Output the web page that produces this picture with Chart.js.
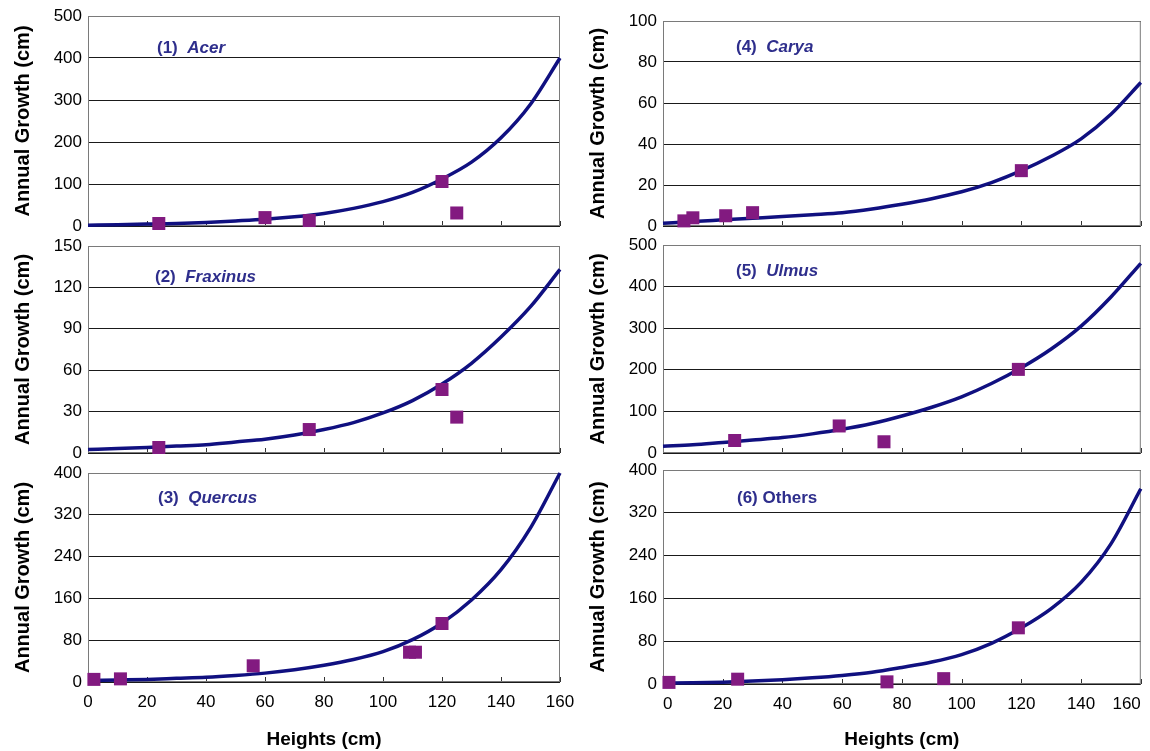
<!DOCTYPE html>
<html>
<head>
<meta charset="utf-8">
<script src="https://cdn.jsdelivr.net/npm/chart.js@4.4.1/dist/chart.umd.min.js"></script>
<style>
    body {
        margin: 0;
        background: #ffffff;
        width: 1150px;
        height: 751px;
        position: relative;
        overflow: hidden;
    }

    canvas {
        position: absolute;
    }
</style>
</head>
<body>
<canvas id="acer"></canvas>
<canvas id="fraxinus"></canvas>
<canvas id="quercus"></canvas>
<canvas id="carya"></canvas>
<canvas id="ulmus"></canvas>
<canvas id="others"></canvas>
<script>
// fitted curves, every 10 cm of height
const fitHeights = [0, 10, 20, 30, 40, 50, 60, 70, 80, 90, 100, 110, 120, 130, 140, 150, 160];
const acerFit = [2, 3, 4.5, 6, 8.5, 12, 16, 22, 30, 42, 58, 80, 112, 152, 210, 290, 400];
const fraxinusFit = [2.5, 3.2, 4, 5, 6, 8, 10, 13, 17, 22, 29, 38, 50, 65, 84, 106, 133];
const quercusFit = [3, 4, 5, 7, 9, 12.5, 17, 23.5, 32, 43, 58, 81, 113, 157, 215, 295, 400];
const caryaFit = [1.3, 2.2, 3, 3.8, 4.6, 5.5, 6.5, 8.3, 10.6, 13.3, 16.7, 21.2, 27, 34, 42.5, 54.5, 70];
const ulmusFit = [16, 20, 25.5, 31, 37, 46, 57, 71, 89, 110, 135, 167, 205, 250, 305, 375, 456];
const othersFit = [1.5, 2.3, 3.5, 5.5, 8, 11.5, 16, 22, 31, 41, 55, 76, 105, 141, 190, 262, 365];

// observed points
const acerHeights = [24, 60, 75, 120, 125];
const acerGrowth = [6, 20, 13, 106, 31];
const fraxinusHeights = [24, 75, 120, 125];
const fraxinusGrowth = [4, 17, 46, 26];
const quercusHeights = [2, 11, 56, 109, 111, 120];
const quercusGrowth = [5, 6, 31, 57, 57, 112];
const caryaHeights = [7, 10, 21, 30, 120];
const caryaGrowth = [2.5, 4, 5, 6.5, 27];
const ulmusHeights = [24, 59, 74, 119];
const ulmusGrowth = [30, 65, 27, 201];
const othersHeights = [2, 25, 75, 94, 119];
const othersGrowth = [3, 9, 4, 10, 105];

const xTicks = [0, 20, 40, 60, 80, 100, 120, 140, 160];

const FONT = '"Liberation Sans", Arial, sans-serif';
const LABEL_COLOR = '#2e2e8c';

const panels = [
    { id: 'acer', num: '(1)', name: 'Acer', italic: true, fit: acerFit, heights: acerHeights, growth: acerGrowth,
      yMax: 500, yStep: 100, left: 0, top: 16, bottom: 226, plotLeft: 88, plotRight: 560, xLabels: false, labelDx: 69, labelDy: 37 },
    { id: 'fraxinus', num: '(2)', name: 'Fraxinus', italic: true, fit: fraxinusFit, heights: fraxinusHeights, growth: fraxinusGrowth,
      yMax: 150, yStep: 30, left: 0, top: 246, bottom: 453, plotLeft: 88, plotRight: 560, xLabels: false, labelDx: 67, labelDy: 36 },
    { id: 'quercus', num: '(3)', name: 'Quercus', italic: true, fit: quercusFit, heights: quercusHeights, growth: quercusGrowth,
      yMax: 400, yStep: 80, left: 0, top: 473, bottom: 682, plotLeft: 88, plotRight: 560, xLabels: true, labelDx: 70, labelDy: 30 },
    { id: 'carya', num: '(4)', name: 'Carya', italic: true, fit: caryaFit, heights: caryaHeights, growth: caryaGrowth,
      yMax: 100, yStep: 20, left: 575, top: 21, bottom: 226, plotLeft: 663, plotRight: 1143, xLabels: false, labelDx: 73, labelDy: 31 },
    { id: 'ulmus', num: '(5)', name: 'Ulmus', italic: true, fit: ulmusFit, heights: ulmusHeights, growth: ulmusGrowth,
      yMax: 500, yStep: 100, left: 575, top: 245, bottom: 453, plotLeft: 663, plotRight: 1143, xLabels: false, labelDx: 73, labelDy: 31 },
    { id: 'others', num: '(6)', name: 'Others', italic: false, fit: othersFit, heights: othersHeights, growth: othersGrowth,
      yMax: 400, yStep: 80, left: 575, top: 470, bottom: 684, plotLeft: 663, plotRight: 1143, xLabels: true, labelDx: 74, labelDy: 33 },
];

const PAD_TOP = 12;
const PAD_BOTTOM = 12;

const panelDecor = {
    id: 'panelDecor',
    beforeDatasetsDraw(chart) {
        const { ctx, chartArea, scales } = chart;
        ctx.save();
        // small inside tick marks on the x axis
        ctx.strokeStyle = '#333333';
        ctx.lineWidth = 1;
        xTicks.forEach((value) => {
            const x = Math.round(scales.x.getPixelForValue(value)) + 0.5;
            ctx.beginPath();
            ctx.moveTo(x, chartArea.bottom);
            ctx.lineTo(x, chartArea.bottom - 5);
            ctx.stroke();
        });
        // plot frame
        ctx.strokeStyle = '#7a7a7a';
        ctx.strokeRect(chartArea.left + 0.5, chartArea.top + 0.5, chartArea.width - 1, chartArea.height - 1);
        ctx.restore();
    },
    afterDraw(chart) {
        const panel = chart.options.plugins.panelDecor;
        const { ctx, chartArea } = chart;
        ctx.save();
        ctx.fillStyle = LABEL_COLOR;
        ctx.textBaseline = 'alphabetic';
        const x = chartArea.left + panel.labelDx;
        const y = chartArea.top + panel.labelDy;
        ctx.font = `bold 17px ${FONT}`;
        const numText = panel.italic ? panel.num + '  ' : panel.num + ' ';
        ctx.fillText(numText, x, y);
        const w = ctx.measureText(numText).width;
        ctx.font = `${panel.italic ? 'italic ' : ''}bold 17px ${FONT}`;
        ctx.fillText(panel.name, x + w, y);
        ctx.restore();
    },
};

panels.forEach((panel) => {
    const canvas = document.getElementById(panel.id);
    const canvasTop = panel.top - PAD_TOP;
    const canvasHeight = panel.xLabels ? 751 - canvasTop : panel.bottom + PAD_BOTTOM - canvasTop;
    const canvasWidth = 575;
    const axisHeight = panel.xLabels ? 751 - panel.bottom : 0;

    canvas.width = canvasWidth;
    canvas.height = canvasHeight;
    canvas.style.left = panel.left + 'px';
    canvas.style.top = canvasTop + 'px';
    canvas.style.width = canvasWidth + 'px';
    canvas.style.height = canvasHeight + 'px';

    new Chart(canvas.getContext('2d'), {
        type: 'scatter',
        data: {
            datasets: [
                {
                    type: 'line',
                    data: fitHeights.map((h, i) => ({ x: h, y: panel.fit[i] })),
                    borderColor: '#101080',
                    borderWidth: 3.5,
                    pointRadius: 0,
                    cubicInterpolationMode: 'monotone',
                    fill: false,
                    clip: 4,
                    order: 2,
                },
                {
                    data: panel.heights.map((h, i) => ({ x: h, y: panel.growth[i] })),
                    pointStyle: 'rect',
                    pointRadius: 9.2,
                    backgroundColor: '#821a80',
                    borderColor: '#821a80',
                    borderWidth: 0,
                    clip: false,
                    order: 1,
                },
            ],
        },
        options: {
            responsive: false,
            animation: false,
            events: [],
            layout: {
                padding: {
                    top: PAD_TOP,
                    bottom: panel.xLabels ? 0 : PAD_BOTTOM,
                    left: 0,
                    right: panel.left + canvasWidth - panel.plotRight,
                },
            },
            plugins: {
                legend: { display: false },
                tooltip: { enabled: false },
                panelDecor: { num: panel.num, name: panel.name, italic: panel.italic, labelDx: panel.labelDx, labelDy: panel.labelDy },
            },
            scales: {
                x: {
                    type: 'linear',
                    min: 0,
                    max: 160,
                    afterBuildTicks(scale) {
                        scale.ticks = xTicks.map((v) => ({ value: v }));
                    },
                    afterFit(scale) {
                        scale.height = axisHeight;
                        scale.paddingLeft = 0;
                        scale.paddingRight = 0;
                    },
                    grid: { display: false, drawTicks: false },
                    border: { display: false },
                    ticks: {
                        display: panel.xLabels,
                        padding: 10,
                        color: '#000000',
                        align: panel.left > 0 ? 'inner' : 'center',
                        maxRotation: 0,
                        font: { family: FONT, size: 17 },
                    },
                    title: {
                        display: panel.xLabels,
                        text: 'Heights (cm)',
                        color: '#000000',
                        padding: { top: 0, bottom: 0 },
                        font: { family: FONT, size: 19, weight: 'bold' },
                    },
                },
                y: {
                    min: 0,
                    max: panel.yMax,
                    afterFit(scale) {
                        scale.width = panel.plotLeft - panel.left;
                        scale.paddingTop = 0;
                        scale.paddingBottom = 0;
                    },
                    grid: {
                        color: '#1a1a1a',
                        lineWidth: 1,
                        drawTicks: false,
                    },
                    border: { display: false },
                    ticks: {
                        stepSize: panel.yStep,
                        padding: 6,
                        color: '#000000',
                        font: { family: FONT, size: 17 },
                    },
                    title: {
                        display: true,
                        text: 'Annual Growth (cm)',
                        color: '#000000',
                        padding: { top: 11, bottom: 0 },
                        font: { family: FONT, size: 20, weight: 'bold' },
                    },
                },
            },
        },
        plugins: [panelDecor],
    });
});
</script>
</body>
</html>
